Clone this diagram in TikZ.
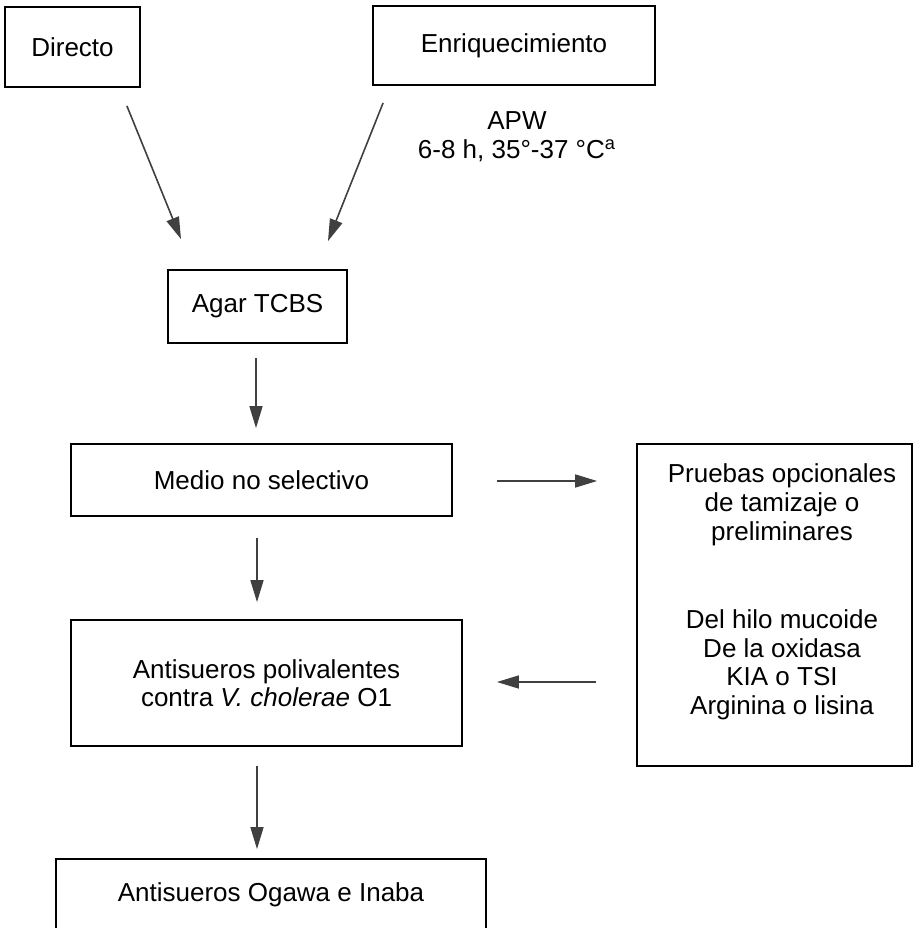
\documentclass[tikz,border=0pt]{standalone}
\usepackage{fontspec}
\setmainfont{Liberation Sans}
\usetikzlibrary{arrows.meta,calc}
\tikzset{
	caja/.style={draw, line width=0.9pt, inner sep=0pt, align=center},
	flecha/.style={draw=black!75, line width=0.8pt, -{Triangle[length=11pt,width=6.5pt]}}
}

\begin{document}
\begin{tikzpicture}[x=0.5pt,y=-0.5pt,font=\fontsize{13}{14.3}\selectfont]
		\useasboundingbox (0,0) rectangle (914,928);
		\clip (0,0) rectangle (914,928);
		\node[caja, minimum width=67.5pt, minimum height=40pt] at (72.5,47) (dir) {Directo};
		\node[caja, minimum width=141pt, minimum height=39.5pt] at (514,45.5) (enr) {Enriquecimiento};
		\node[align=center] at (517,137) (apw) {APW\\6-8 h, 35°-37 °C\textsuperscript{a}};
		\node[caja, minimum width=89.5pt, minimum height=36.5pt] at (257.5,306.5) (agar) {Agar TCBS};
		\node[caja, minimum width=190.5pt, minimum height=36pt] at (261.5,480) (medio) {Medio no selectivo};
		\node[caja, minimum width=137.5pt, minimum height=161pt] at (774.5,605) (pruebas) {};
		\node[align=center] at (782,592) (pruebastxt) {Pruebas opcionales\\de tamizaje o\\preliminares\\[30pt]Del hilo mucoide\\De la oxidasa\\KIA o TSI\\Arginina o lisina};
		\node[caja, minimum width=195.5pt, minimum height=63pt] at (266.5,683) (poli) {Antisueros polivalentes\\contra \textit{V. cholerae} O1};
		\node[caja, minimum width=215pt, minimum height=36pt] at (271,895) (ogawa) {Antisueros Ogawa e Inaba};
		
		\draw[flecha] ($(dir.south east)+(-14,18)$) -- ($(agar.north)+(-76.5,-30)$);
		\draw[flecha] ($(enr.south west)+(11,17)$) -- ($(agar.north)+(70.5,-28)$);
		\draw[flecha] ($(agar.south)+(-1.5,14)$) -- ($(medio.north)+(-5.5,-15)$);
		\draw[flecha] ($(medio.south)+(-4.5,21)$) -- ($(poli.north)+(-9.5,-17)$);
		\draw[flecha] ($(poli.south)+(-9.5,19)$) -- ($(ogawa.north)+(-14,-9)$);
		\draw[flecha] ($(medio.east)+(44,1)$) -- ($(pruebas.west |- medio.east)+(-39,1)$);
		\draw[flecha] ($(pruebas.west |- poli.east)+(-40,-1)$) -- ($(poli.east)+(34,-1)$);
	\end{tikzpicture}
\end{document}
